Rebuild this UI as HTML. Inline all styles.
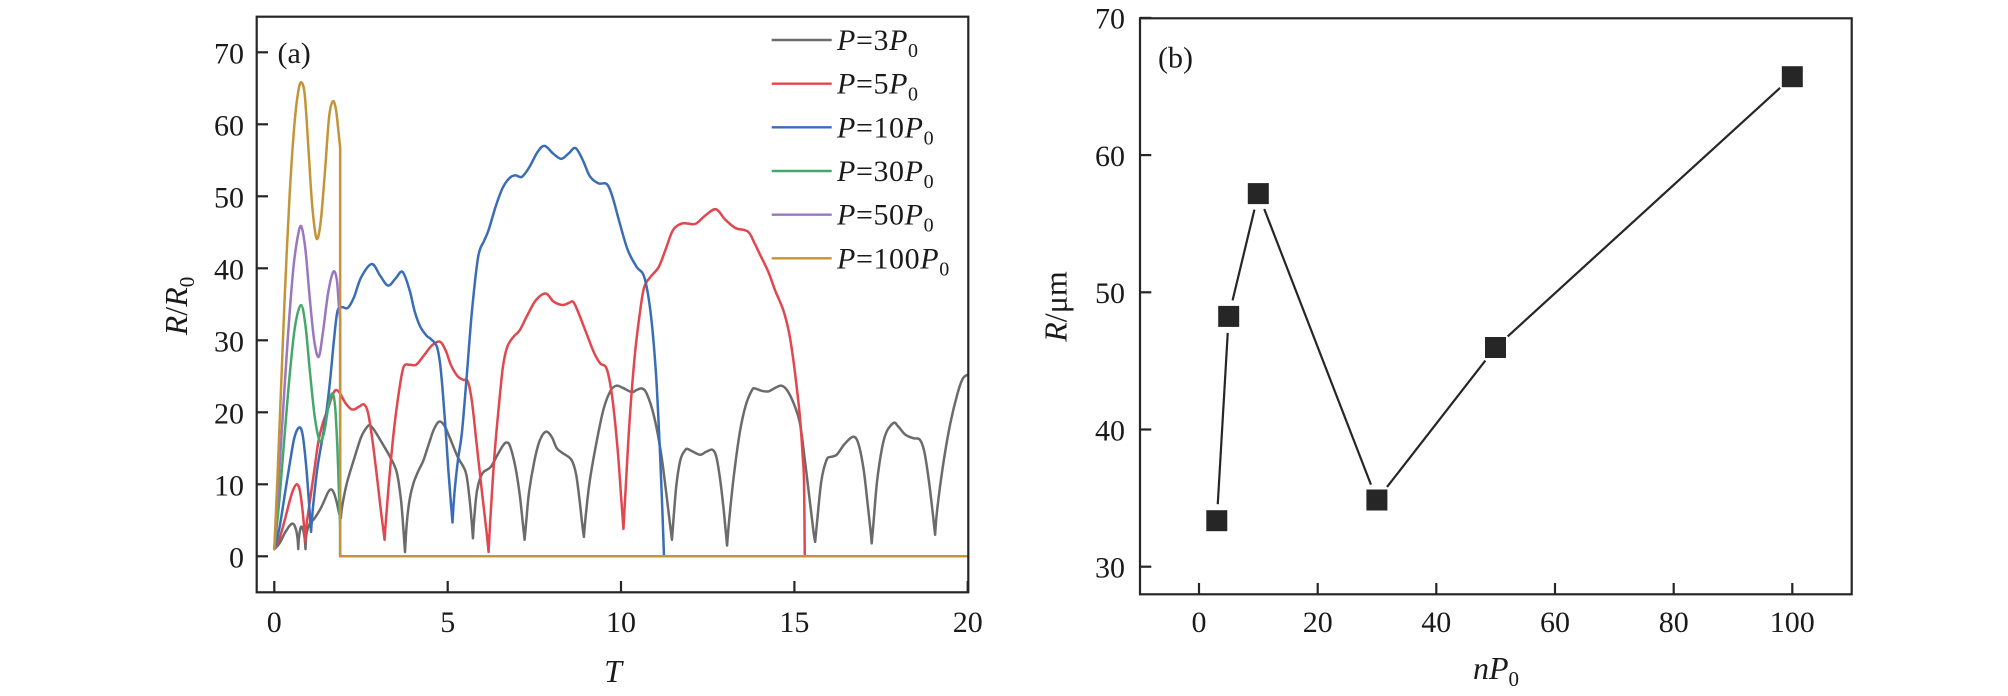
<!DOCTYPE html>
<html>
<head>
<meta charset="utf-8">
<style>
html,body{margin:0;padding:0;background:#fff;}
svg{display:block;}
text{font-family:"Liberation Serif","DejaVu Serif",serif;fill:#1a1a1a;}
.c{fill:none;stroke-width:2.5;stroke-linejoin:round;stroke-linecap:round;vector-effect:non-scaling-stroke;}
</style>
</head>
<body>
<svg id="chart" width="2008" height="696" viewBox="0 0 2008 696" xmlns="http://www.w3.org/2000/svg">
<rect x="0" y="0" width="2008" height="696" fill="#fff"/>

<!-- ========== LEFT PLOT (a) ========== -->
<g transform="translate(274.3,556.3) scale(34.67,-7.2)">
<polyline class="c" stroke="#6b6b6b" points="0,1 0.15,1.8 0.3,3.2 0.45,4.3 0.55,4.5 0.62,3.8 0.67,2.5 0.69,1.0 0.71,2.5 0.75,3.8 0.79,4.1 0.84,3.5 0.88,2.3 0.90,1.0 0.93,3.2 1.03,4.6 1.15,5.2 1.32,6.5 1.45,7.8 1.55,8.9 1.64,9.3 1.72,8.8 1.80,7.5 1.87,6.0 1.92,5.3 1.96,7.0 2.09,10.1 2.3,13.5 2.5,16.5 2.65,17.8 2.76,18.2 2.9,17.4 3.1,15.8 3.34,13.8 3.53,11.7 3.65,8 3.72,4 3.77,0.6 3.82,4.5 3.9,7.8 4.01,10.1 4.15,11.8 4.30,13.3 4.45,15.5 4.6,17.6 4.75,18.7 4.9,18.2 5.05,16.6 5.29,13.8 5.52,11.7 5.62,8.5 5.69,5 5.73,2.5 5.77,5.5 5.85,9.2 6.0,11.5 6.24,12.4 6.45,14.2 6.6,15.4 6.70,15.8 6.8,15.3 6.95,12.5 7.08,8.5 7.17,4.5 7.22,2.3 7.27,5 7.35,9 7.5,13.2 7.65,16 7.83,17.3 8.0,16.6 8.15,15.0 8.33,14.3 8.57,13.4 8.7,11.5 8.8,8 8.88,4.5 8.93,2.7 8.98,5.5 9.1,10.5 9.3,16 9.5,20.5 9.7,23 9.87,23.7 10.05,23.4 10.31,22.8 10.45,23.1 10.61,23.3 10.75,22.5 10.95,19.5 11.15,14.5 11.3,9 11.4,5 11.47,2.3 11.52,5.5 11.6,10 11.72,13.5 11.86,14.8 11.92,14.9 12.05,14.6 12.28,14.1 12.45,14.5 12.64,14.8 12.75,13.8 12.85,11 12.95,7 13.02,3.5 13.06,1.5 13.12,5 13.25,11 13.43,17.3 13.6,21 13.78,23.1 13.87,23.3 14.05,23.0 14.25,22.9 14.45,23.4 14.63,23.7 14.8,23.0 15.0,21.0 15.16,18.5 15.3,13.5 15.45,7.5 15.55,3.5 15.6,2.0 15.66,5 15.78,10.5 15.93,13.4 16.05,13.8 16.22,14.1 16.45,15.6 16.7,16.6 16.85,15.6 17.0,12 17.12,7 17.2,3.5 17.23,1.8 17.28,4.5 17.4,11 17.6,16.5 17.85,18.5 18.0,18.0 18.2,16.9 18.43,16.4 18.62,16.2 18.75,14.5 18.88,10.5 18.98,6.5 19.06,3.0 19.12,6.5 19.3,13 19.5,18.5 19.7,22.5 19.85,24.6 20,25.2"/>
<polyline class="c" stroke="#e0474f" points="0,1 0.15,2.5 0.3,5 0.45,7.8 0.55,9.3 0.65,10.0 0.73,9.3 0.8,7 0.86,4 0.885,2.0 0.92,4 1.03,7.8 1.15,11.8 1.27,15.9 1.4,18.5 1.55,20.5 1.68,22.4 1.78,23.1 1.9,22.6 2.05,21.3 2.2,20.5 2.30,20.4 2.45,20.8 2.59,21.1 2.7,20 2.82,16.5 2.95,11.5 3.07,6.5 3.15,3.5 3.18,2.3 3.22,5 3.32,11 3.45,17.5 3.6,23 3.73,26.3 3.9,26.6 4.09,26.6 4.3,27.8 4.55,29.3 4.78,29.8 4.95,28.5 5.1,26.5 5.29,25 5.45,24.5 5.58,24.3 5.7,21.5 5.85,15 6.0,8.5 6.12,3.5 6.18,0.6 6.23,5 6.35,14 6.5,22 6.6,26.5 6.72,29.1 6.9,30.5 7.08,31.4 7.3,33.5 7.55,35.6 7.83,36.5 8.05,35.4 8.31,34.9 8.5,35.2 8.63,35.3 8.8,33.5 9.0,31 9.23,28.2 9.4,26.8 9.59,26 9.75,22 9.9,15 10.0,8.5 10.07,3.8 10.13,9 10.25,19 10.4,28 10.55,34 10.67,37.4 10.85,38.8 11.09,40.2 11.3,42.8 11.5,45.3 11.74,46.2 11.95,46.2 12.16,46.2 12.45,47.4 12.74,48.2 13.0,46.8 13.3,45.6 13.66,45.1 13.85,43.5 14.0,42 14.25,39.5 14.44,37.0 14.68,34.2 14.85,31 14.97,27.3 15.08,23 15.16,19.4 15.24,14 15.28,10.1 15.3,0"/>
<polyline class="c" stroke="#3a6db5" points="0,1 0.15,4 0.3,8.5 0.45,13 0.58,16.5 0.72,17.9 0.82,16.8 0.92,12.5 1.0,7.5 1.06,3.4 1.12,7 1.25,12.5 1.46,18.5 1.6,24 1.72,30 1.82,34 1.95,34.6 2.12,34.5 2.3,36 2.5,38.7 2.81,40.6 3.05,39 3.28,37.6 3.5,38.6 3.70,39.5 3.9,37 4.05,34 4.21,31.9 4.4,30.6 4.51,30.2 4.69,29.1 4.8,26 4.92,19 5.02,12 5.1,7 5.14,4.7 5.2,9 5.3,13.5 5.41,17.1 5.55,25 5.7,34 5.88,41.6 6.05,43.8 6.18,45.3 6.4,48.8 6.6,51.3 6.8,52.6 6.96,52.9 7.14,52.7 7.35,54 7.6,56.2 7.80,57.0 8.05,55.9 8.28,55.2 8.5,56 8.69,56.7 8.9,55 9.1,52.8 9.35,51.8 9.59,51.7 9.75,50 9.95,46.5 10.19,42.6 10.45,40.2 10.67,38.8 10.85,34 11.0,26 11.1,17 11.18,8 11.24,0"/>
<polyline class="c" stroke="#45a86b" points="0,1 0.15,8 0.3,17 0.45,25.5 0.6,32 0.77,34.9 0.9,32 1.02,26 1.15,20 1.25,17 1.34,15.9 1.45,17.5 1.55,20.5 1.66,22.6 1.75,21 1.82,15 1.87,8 1.9,4 1.9,0"/>
<polyline class="c" stroke="#9a77bf" points="0,1 0.12,10 0.25,20 0.4,31 0.55,40 0.68,44.5 0.78,45.8 0.9,42.5 1.02,36 1.15,30 1.28,27.7 1.4,31 1.55,36.5 1.70,39.5 1.8,38.5 1.86,35 1.9,33 1.9,0"/>
<polyline class="c" stroke="#c49538" points="0,1 0.1,12 0.2,24 0.3,36 0.44,50 0.58,60 0.7,64.8 0.79,65.8 0.88,64 0.98,57 1.08,49.5 1.18,45 1.255,44.2 1.35,47 1.47,54 1.58,61 1.69,63.2 1.78,62 1.85,59 1.9,56.7 1.9,0 20,0"/>
</g>

<rect x="256.7" y="16.7" width="711.6" height="575.6" fill="none" stroke="#262626" stroke-width="2.2"/>
<g stroke="#262626" stroke-width="2.2">
<line x1="256.7" y1="556.3" x2="268" y2="556.3"/>
<line x1="256.7" y1="484.3" x2="268" y2="484.3"/>
<line x1="256.7" y1="412.3" x2="268" y2="412.3"/>
<line x1="256.7" y1="340.3" x2="268" y2="340.3"/>
<line x1="256.7" y1="268.3" x2="268" y2="268.3"/>
<line x1="256.7" y1="196.3" x2="268" y2="196.3"/>
<line x1="256.7" y1="124.3" x2="268" y2="124.3"/>
<line x1="256.7" y1="52.3" x2="268" y2="52.3"/>
<line x1="274.3" y1="592.3" x2="274.3" y2="581"/>
<line x1="447.7" y1="592.3" x2="447.7" y2="581"/>
<line x1="621.0" y1="592.3" x2="621.0" y2="581"/>
<line x1="794.4" y1="592.3" x2="794.4" y2="581"/>
<line x1="967.7" y1="592.3" x2="967.7" y2="581"/>
</g>
<g font-size="30" text-anchor="end">
<text x="244" y="567.5">0</text>
<text x="244" y="495.5">10</text>
<text x="244" y="423.5">20</text>
<text x="244" y="351.5">30</text>
<text x="244" y="279.5">40</text>
<text x="244" y="207.5">50</text>
<text x="244" y="135.5">60</text>
<text x="244" y="63.5">70</text>
</g>
<g font-size="30" text-anchor="middle">
<text x="274.3" y="632">0</text>
<text x="447.7" y="632">5</text>
<text x="621.0" y="632">10</text>
<text x="794.4" y="632">15</text>
<text x="967.7" y="632">20</text>
</g>
<text x="277.5" y="63" font-size="30">(a)</text>
<text x="613" y="682" font-size="32" text-anchor="middle" font-style="italic">T</text>
<text transform="translate(187,306) rotate(-90)" font-size="32" text-anchor="middle"><tspan font-style="italic">R</tspan>/<tspan font-style="italic">R</tspan><tspan font-size="21" dy="7">0</tspan></text>

<g stroke-width="2.4">
<line x1="771.7" y1="40" x2="831.7" y2="40" stroke="#6b6b6b"/>
<line x1="771.7" y1="83.7" x2="831.7" y2="83.7" stroke="#e0474f"/>
<line x1="771.7" y1="127.3" x2="831.7" y2="127.3" stroke="#3a6db5"/>
<line x1="771.7" y1="171.0" x2="831.7" y2="171.0" stroke="#45a86b"/>
<line x1="771.7" y1="214.7" x2="831.7" y2="214.7" stroke="#9a77bf"/>
<line x1="771.7" y1="258.3" x2="831.7" y2="258.3" stroke="#c49538"/>
</g>
<g font-size="30" letter-spacing="0.6">
<text x="837" y="50"><tspan font-style="italic">P</tspan>=3<tspan font-style="italic">P</tspan><tspan font-size="20" dy="7">0</tspan></text>
<text x="837" y="93.7"><tspan font-style="italic">P</tspan>=5<tspan font-style="italic">P</tspan><tspan font-size="20" dy="7">0</tspan></text>
<text x="837" y="137.3"><tspan font-style="italic">P</tspan>=10<tspan font-style="italic">P</tspan><tspan font-size="20" dy="7">0</tspan></text>
<text x="837" y="181.0"><tspan font-style="italic">P</tspan>=30<tspan font-style="italic">P</tspan><tspan font-size="20" dy="7">0</tspan></text>
<text x="837" y="224.7"><tspan font-style="italic">P</tspan>=50<tspan font-style="italic">P</tspan><tspan font-size="20" dy="7">0</tspan></text>
<text x="837" y="268.3"><tspan font-style="italic">P</tspan>=100<tspan font-style="italic">P</tspan><tspan font-size="20" dy="7">0</tspan></text>
</g>

<!-- ========== RIGHT PLOT (b) ========== -->
<rect x="1140" y="18.3" width="711.7" height="576" fill="none" stroke="#262626" stroke-width="2.2"/>
<g stroke="#262626" stroke-width="2.2">
<line x1="1140" y1="566.7" x2="1151.3" y2="566.7"/>
<line x1="1140" y1="429.5" x2="1151.3" y2="429.5"/>
<line x1="1140" y1="292.3" x2="1151.3" y2="292.3"/>
<line x1="1140" y1="155.1" x2="1151.3" y2="155.1"/>
<line x1="1140" y1="17.9" x2="1151.3" y2="17.9"/>
<line x1="1199" y1="594.3" x2="1199" y2="583"/>
<line x1="1317.7" y1="594.3" x2="1317.7" y2="583"/>
<line x1="1436.3" y1="594.3" x2="1436.3" y2="583"/>
<line x1="1555" y1="594.3" x2="1555" y2="583"/>
<line x1="1673.7" y1="594.3" x2="1673.7" y2="583"/>
<line x1="1792.3" y1="594.3" x2="1792.3" y2="583"/>
</g>
<g font-size="30" text-anchor="end">
<text x="1125" y="577.5">30</text>
<text x="1125" y="440.3">40</text>
<text x="1125" y="303.1">50</text>
<text x="1125" y="165.9">60</text>
<text x="1125" y="28.7">70</text>
</g>
<g font-size="30" text-anchor="middle">
<text x="1199" y="632">0</text>
<text x="1317.7" y="632">20</text>
<text x="1436.3" y="632">40</text>
<text x="1555" y="632">60</text>
<text x="1673.7" y="632">80</text>
<text x="1792.3" y="632">100</text>
</g>
<text x="1158" y="67.5" font-size="30">(b)</text>
<text x="1496" y="679" font-size="32" text-anchor="middle"><tspan font-style="italic">nP</tspan><tspan font-size="21" dy="7">0</tspan></text>
<text transform="translate(1066.5,306.5) rotate(-90)" font-size="32" text-anchor="middle"><tspan font-style="italic">R</tspan>/μm</text>

<g stroke="#262626" stroke-width="2.2" stroke-linecap="butt">
<line x1="1217.76" y1="504.2" x2="1227.74" y2="332.9"/>
<line x1="1232.57" y1="300.36" x2="1254.43" y2="209.64"/>
<line x1="1264.25" y1="208.98" x2="1370.95" y2="484.62"/>
<line x1="1387.03" y1="486.98" x2="1485.37" y2="360.52"/>
<line x1="1507.69" y1="336.38" x2="1780.11" y2="87.82"/>
</g>
<g fill="#262626">
<rect x="1206.3" y="510.2" width="21" height="21"/>
<rect x="1218.2" y="305.9" width="21" height="21"/>
<rect x="1247.8" y="183.1" width="21" height="21"/>
<rect x="1366.4" y="489.5" width="21" height="21"/>
<rect x="1485.0" y="337.0" width="21" height="21"/>
<rect x="1781.8" y="66.2" width="21" height="21"/>
</g>
</svg>
<script>
(function(){
  try{
    var NS="http://www.w3.org/2000/svg";
    var pls=document.querySelectorAll("polyline.c");
    for(var k=0;k<pls.length;k++){
      var pl=pls[k];
      var raw=pl.getAttribute("points").trim().split(/\s+/);
      var P=[];
      for(var i=0;i<raw.length;i++){var a=raw[i].split(",");P.push([parseFloat(a[0]),parseFloat(a[1])]);}
      var n=P.length;
      var corner=[];
      for(var i=0;i<n;i++){
        var c=false;
        if(i===0||i===n-1)c=true;
        else{
          if(P[i][1]<P[i-1][1]&&P[i][1]<P[i+1][1]&&P[i][1]<6)c=true;
          if(P[i][0]===P[i-1][0]||P[i][0]===P[i+1][0])c=true;
        }
        corner.push(c);
      }
      var d="M"+P[0][0]+","+P[0][1];
      for(var i=0;i<n-1;i++){
        var p0=P[i],p1=P[i+1];
        var pm=P[Math.max(0,i-1)],p2=P[Math.min(n-1,i+2)];
        var c1=corner[i]?p0:[p0[0]+(p1[0]-pm[0])/6,p0[1]+(p1[1]-pm[1])/6];
        var c2=corner[i+1]?p1:[p1[0]-(p2[0]-p0[0])/6,p1[1]-(p2[1]-p0[1])/6];
        if(p0[0]===p1[0]){c1=p0;c2=p1;}
        d+=" C"+c1[0]+","+c1[1]+" "+c2[0]+","+c2[1]+" "+p1[0]+","+p1[1];
      }
      var path=document.createElementNS(NS,"path");
      path.setAttribute("d",d);
      path.setAttribute("class","c");
      path.setAttribute("stroke",pl.getAttribute("stroke"));
      pl.parentNode.insertBefore(path,pl);
      pl.parentNode.removeChild(pl);
    }
  }catch(e){}
})();
</script>
</body>
</html>
